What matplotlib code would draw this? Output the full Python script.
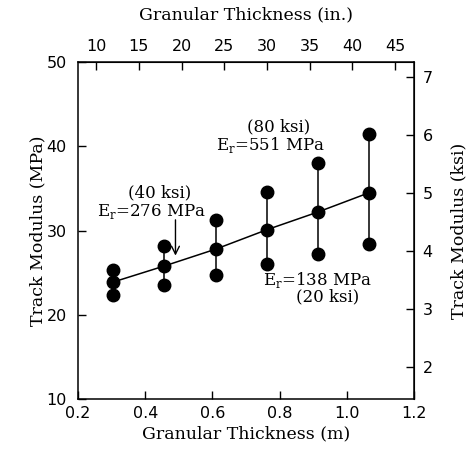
import numpy as np
import matplotlib.pyplot as plt

# granular thickness (m) and track modulus (MPa): high / mean / low
thick_m = [0.305, 0.457, 0.610, 0.762, 0.914, 1.067]
mod_high = [25.3, 28.2, 31.2, 34.6, 38.0, 41.5]
mod_mid = [23.9, 25.8, 27.8, 30.1, 32.2, 34.5]
mod_low = [22.3, 23.5, 24.7, 26.0, 27.2, 28.4]

x_ticks = [0.2, 0.4, 0.6, 0.8, 1.0, 1.2]
y_ticks = [10, 20, 30, 40, 50]
in_ticks = [10, 15, 20, 25, 30, 35, 40, 45]
ksi_ticks = [2, 3, 4, 5, 6, 7]

MPA_PER_KSI = 6.895
M_PER_IN = 0.0254

serif = 'DejaVu Serif'
lab_fs = 12.5
tick_fs = 11.5

fig = plt.figure(figsize=(4.7, 4.49), dpi=100)
ax = fig.add_axes([0.166, 0.111, 0.715, 0.751])

for x, lo, hi in zip(thick_m, mod_low, mod_high):
    ax.plot([x, x], [lo, hi], color='black', lw=1.1)
ax.plot(thick_m, mod_mid, color='black', lw=1.1)
for ys in (mod_high, mod_mid, mod_low):
    ax.plot(thick_m, ys, 'o', color='black', ms=9, ls='none')

ax.set_xlim(0.2, 1.2)
ax.set_ylim(10, 50)
ax.set_xticks(x_ticks)
ax.set_xticklabels([f'{v:.1f}' for v in x_ticks])
ax.set_yticks(y_ticks)
ax.tick_params(direction='in', length=6, width=1, labelsize=tick_fs)
ax.tick_params(axis='y', pad=8)
ax.tick_params(axis='x', pad=5)
for s in ax.spines.values():
    s.set_linewidth(1.1)

ax.set_xlabel('Granular Thickness (m)', family=serif, fontsize=lab_fs, labelpad=3)
ax.set_ylabel('Track Modulus (MPa)', family=serif, fontsize=lab_fs, labelpad=0)

top = ax.secondary_xaxis('top', functions=(lambda m: m / M_PER_IN, lambda i: i * M_PER_IN))
top.set_xticks(in_ticks)
top.tick_params(direction='in', length=6, width=1, labelsize=tick_fs, pad=6)
top.set_xlabel('Granular Thickness (in.)', family=serif, fontsize=lab_fs, labelpad=14)

right = ax.secondary_yaxis('right', functions=(lambda p: p / MPA_PER_KSI, lambda k: k * MPA_PER_KSI))
right.set_yticks(ksi_ticks)
right.tick_params(direction='in', length=6, width=1, labelsize=tick_fs, pad=6)
right.set_ylabel('Track Modulus (ksi)', family=serif, fontsize=lab_fs, labelpad=13)

fs = 12
ax.text(0.442, 34.5, '(40 ksi)', family=serif, fontsize=fs, ha='center', va='center')
ax.text(0.418, 32.3, r'E$_\mathregular{r}$=276 MPa', family=serif, fontsize=fs, ha='center', va='center')
ax.annotate('', xy=(0.49, 26.7), xytext=(0.49, 31.6),
            arrowprops=dict(arrowstyle='->', color='black', lw=1, mutation_scale=14))
ax.text(0.797, 42.3, '(80 ksi)', family=serif, fontsize=fs, ha='center', va='center')
ax.text(0.773, 40.1, r'E$_\mathregular{r}$=551 MPa', family=serif, fontsize=fs, ha='center', va='center')
ax.text(0.913, 24.1, r'E$_\mathregular{r}$=138 MPa', family=serif, fontsize=fs, ha='center', va='center')
ax.text(0.943, 22.1, '(20 ksi)', family=serif, fontsize=fs, ha='center', va='center')

fig.savefig('out.png', dpi=100)
